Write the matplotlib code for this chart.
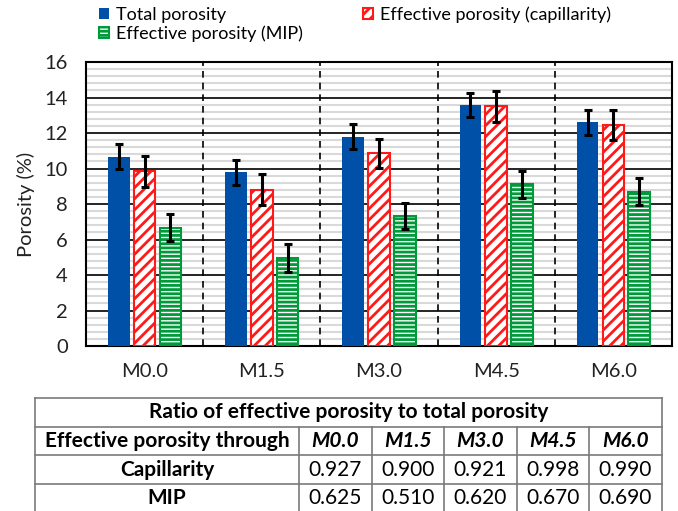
import matplotlib
matplotlib.use("Agg")
import matplotlib.pyplot as plt
import numpy as np
from matplotlib.lines import Line2D
from matplotlib.ticker import MultipleLocator

# Porosity of the five mixes (%), with standard deviations
mixes = ["M0.0", "M1.5", "M3.0", "M4.5", "M6.0"]
total_porosity = [10.66, 9.78, 11.79, 13.58, 12.60]
total_err = [0.70, 0.70, 0.69, 0.70, 0.70]
cap_porosity = [9.85, 8.80, 10.85, 13.50, 12.45]
cap_err = [0.87, 0.88, 0.83, 0.87, 0.87]
mip_porosity = [6.67, 4.96, 7.32, 9.10, 8.68]
mip_err = [0.78, 0.77, 0.73, 0.78, 0.76]

# Ratio of effective porosity to total porosity
ratio_capillarity = ["0.927", "0.900", "0.921", "0.998", "0.990"]
ratio_mip = ["0.625", "0.510", "0.620", "0.670", "0.690"]

W, H = 678, 511
plt.rcParams['font.family'] = ['Lato', 'DejaVu Sans']
plt.rcParams['hatch.linewidth'] = 2.0

fig = plt.figure(figsize=(W / 100, H / 100), dpi=100)
ax = fig.add_axes([86 / W, 1 - 346 / H, (672 - 86) / W, (346 - 62) / H])

x = np.arange(len(mixes))
bw = 0.183
off = 0.22
blue = "#0050A8"
red = "#FF1A1A"
green = "#009A3A"
eb = dict(ecolor='black', elinewidth=2.2, capsize=3, capthick=2.2, zorder=5)

b1 = ax.bar(x - off, total_porosity, bw, color=blue, yerr=total_err,
            error_kw=eb, zorder=3, label="Total porosity")
b2 = ax.bar(x, cap_porosity, bw, facecolor='white', edgecolor=red, hatch='///',
            linewidth=1.5, yerr=cap_err, error_kw=eb, zorder=3,
            label="Effective porosity (capillarity)")
b3 = ax.bar(x + off, mip_porosity, bw, facecolor='white', edgecolor=green, hatch='----',
            linewidth=1.5, yerr=mip_err, error_kw=eb, zorder=3,
            label="Effective porosity (MIP)")

ax.set_xlim(-0.5, len(mixes) - 0.5)
ax.set_ylim(0, 16)
ax.yaxis.set_major_locator(MultipleLocator(2))
ax.yaxis.set_minor_locator(MultipleLocator(0.4))
ax.grid(which='minor', axis='y', color='#d9d9d9', lw=1.5, zorder=0)
ax.grid(which='major', axis='y', color='black', lw=1.2, zorder=1)
ax.set_axisbelow(True)
for b in x[:-1] + 0.5:
    ax.axvline(b, color='black', ls=(0, (4, 3)), lw=1.2, zorder=1)

for s in ax.spines.values():
    s.set_linewidth(1.5)
    s.set_color('black')
ax.tick_params(which='both', length=0)
ax.tick_params(axis='y', pad=13, labelsize=14.5, labelcolor='#222222')
ax.tick_params(axis='x', pad=12, labelsize=14.5, labelcolor='#222222')
ax.set_xticks(x)
ax.set_xticklabels(mixes)
ax.set_ylabel("Porosity (%)", fontsize=14.5, color='#222222', labelpad=7)

fig.legend([b1, b3, b2],
           ["Total porosity", "Effective porosity (MIP)", "Effective porosity (capillarity)"],
           ncol=2, loc='upper left', bbox_to_anchor=(99 / W, 1 - 6 / H),
           frameon=False, fontsize=13, handlelength=0.55, handleheight=0.55,
           handletextpad=0.4, columnspacing=3.3, labelspacing=0.15,
           borderpad=0, borderaxespad=0)


def fx(px):
    return px / W


def fy(py):
    return 1 - py / H


# Ratio table under the chart
cols = [35, 299, 371.5, 444, 516.5, 589, 662]
rows = [398.3, 426.5, 455.2, 483.8, 512.5]
lc = '#7a7a7a'
for r in rows:
    fig.add_artist(Line2D([fx(cols[0]), fx(cols[-1])], [fy(r), fy(r)], color=lc, lw=1.2))
for c in (cols[0], cols[-1]):
    fig.add_artist(Line2D([fx(c), fx(c)], [fy(rows[0]), fy(rows[-1])], color=lc, lw=1.2))
for c in cols[1:-1]:
    fig.add_artist(Line2D([fx(c), fx(c)], [fy(rows[1]), fy(rows[-1])], color=lc, lw=1.2))

fs = 15
def cell(text, c0, c1, r0, r1, **kw):
    fig.text(fx((c0 + c1) / 2), fy((r0 + r1) / 2), text, ha='center', va='center',
             fontsize=fs, color='black', **kw)

cell("Ratio of effective porosity to total porosity", cols[0], cols[-1], rows[0], rows[1], weight='bold')
cell("Effective porosity through", cols[0], cols[1], rows[1], rows[2], weight='bold')
cell("Capillarity", cols[0], cols[1], rows[2], rows[3], weight='bold')
cell("MIP", cols[0], cols[1], rows[3], rows[4], weight='bold')
for i, m in enumerate(mixes):
    cell(m, cols[i + 1], cols[i + 2], rows[1], rows[2], weight='bold', style='italic')
    cell(ratio_capillarity[i], cols[i + 1], cols[i + 2], rows[2], rows[3])
    cell(ratio_mip[i], cols[i + 1], cols[i + 2], rows[3], rows[4])

fig.savefig("out.png", dpi=100)
